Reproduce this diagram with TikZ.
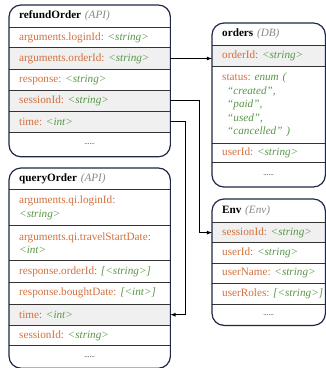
\documentclass[tikz,border=0pt]{standalone}
\usepackage{fontspec}
\setmainfont{Liberation Serif}
\frenchspacing
\definecolor{navy}{RGB}{30,40,70}
\definecolor{keyc}{RGB}{210,112,62}
\definecolor{valc}{RGB}{88,150,70}
\definecolor{rowgray}{RGB}{240,240,240}
\definecolor{tagc}{RGB}{135,135,135}
\newcommand{\fk}[1]{\textcolor{keyc}{#1}}
\newcommand{\fv}[1]{\textcolor{valc}{\textit{#1}}}
\newcommand{\hd}[2]{\textbf{#1} \textcolor{tagc}{\textit{(#2)}}}

\begin{document}
\begin{tikzpicture}[x=1pt,y=-1pt,
  fld/.style={anchor=north west,inner xsep=10pt,inner ysep=0pt,align=left,
    text width=#1,font=\fontsize{11.2}{13.6}\selectfont\frenchspacing},
  dots/.style={fld=#1,align=center,font=\scriptsize},
  hl/.style={fill=rowgray},
  box/.style={draw=navy,line width=1.2pt,rounded corners=12pt},
  sep/.style={draw=black!80,line width=0.9pt},
  link/.style={-latex,line width=0.8pt}]
\useasboundingbox (0,0) rectangle (326,368);

% refundOrder
\node[fld=141pt,minimum height=22pt] (ro-hd) at (9,5) {\hd{refundOrder}{API}};
\node[fld=141pt,minimum height=20pt] (ro-login) at (ro-hd.south west) {\fk{arguments.loginId:} \fv{<string>}};
\node[fld=141pt,minimum height=21pt,hl] (ro-order) at (ro-login.south west) {\fk{arguments.orderId:} \fv{<string>}};
\node[fld=141pt,minimum height=21pt] (ro-resp) at (ro-order.south west) {\fk{response:} \fv{<string>}};
\node[fld=141pt,minimum height=20pt,hl] (ro-session) at (ro-resp.south west) {\fk{sessionId:} \fv{<string>}};
\node[fld=141pt,minimum height=21pt,hl] (ro-time) at (ro-session.south west) {\fk{time:} \fv{<int>}};
\node[dots=141pt,minimum height=24pt] (ro-end) at (ro-time.south west) {......};
\foreach \r in {ro-hd,ro-login,ro-order,ro-resp,ro-session,ro-time}
  \draw[sep] (\r.south west) -- (\r.south east);
\draw[box] (ro-hd.north west) rectangle (ro-end.south east);

% queryOrder
\node[fld=141pt,minimum height=21pt] (qo-hd) at (9,168) {\hd{queryOrder}{API}};
\node[fld=141pt,minimum height=36pt] (qo-login) at (qo-hd.south west) {\fk{arguments.qi.loginId:}\\\fv{<string>}};
\node[fld=141pt,minimum height=34pt] (qo-date) at (qo-login.south west) {\fk{arguments.qi.travelStartDate:}\\\fv{<int>}};
\node[fld=141pt,minimum height=22pt] (qo-order) at (qo-date.south west) {\fk{response.orderId:}~\fv{[<string>]}};
\node[fld=141pt,minimum height=21pt] (qo-bought) at (qo-order.south west) {\fk{response.boughtDate:}~\fv{[<int>]}};
\node[fld=141pt,minimum height=21pt,hl] (qo-time) at (qo-bought.south west) {\fk{time:} \fv{<int>}};
\node[fld=141pt,minimum height=20pt] (qo-session) at (qo-time.south west) {\fk{sessionId:} \fv{<string>}};
\node[dots=141pt,minimum height=22pt] (qo-end) at (qo-session.south west) {......};
\foreach \r in {qo-hd,qo-login,qo-date,qo-order,qo-bought,qo-time,qo-session}
  \draw[sep] (\r.south west) -- (\r.south east);
\draw[box] (qo-hd.north west) rectangle (qo-end.south east);

% orders
\node[fld=93pt,minimum height=22pt] (od-hd) at (212,23) {\hd{orders}{DB}};
\node[fld=93pt,minimum height=21pt,hl] (od-order) at (od-hd.south west) {\fk{orderId:} \fv{<string>}};
\node[fld=93pt,minimum height=76pt] (od-status) at (od-order.south west) {\fk{status:} \fv{enum (}\\
  \hspace*{5pt}\fv{“created”,}\\ \hspace*{5pt}\fv{“paid”,}\\ \hspace*{5pt}\fv{“used”,}\\ \hspace*{5pt}\fv{“cancelled” )}};
\node[fld=93pt,minimum height=19pt] (od-user) at (od-status.south west) {\fk{userId:} \fv{<string>}};
\node[dots=93pt,minimum height=24pt] (od-end) at (od-user.south west) {......};
\foreach \r in {od-hd,od-order,od-status,od-user}
  \draw[sep] (\r.south west) -- (\r.south east);
\draw[box] (od-hd.north west) rectangle (od-end.south east);

% Env
\node[fld=93pt,minimum height=23pt] (env-hd) at (212,199) {\hd{Env}{Env}};
\node[fld=93pt,minimum height=20pt,hl] (env-session) at (env-hd.south west) {\fk{sessionId:}~\fv{<string>}};
\node[fld=93pt,minimum height=20pt] (env-user) at (env-session.south west) {\fk{userId:} \fv{<string>}};
\node[fld=93pt,minimum height=20pt] (env-name) at (env-user.south west) {\fk{userName:}~\fv{<string>}};
\node[fld=93pt,minimum height=20pt] (env-roles) at (env-name.south west) {\fk{userRoles:}~\fv{[<string>]}};
\node[dots=93pt,minimum height=21pt] (env-end) at (env-roles.south west) {......};
\foreach \r in {env-hd,env-session,env-user,env-name,env-roles}
  \draw[sep] (\r.south west) -- (\r.south east);
\draw[box] (env-hd.north west) rectangle (env-end.south east);

% links
\draw[link] (ro-order.east) -- (ro-order.east -| od-order.west);
\draw[link] (ro-session.east) -- ([xshift=29pt]ro-session.east) |- (env-session.west);
\draw[link] (ro-time.east) -- ([xshift=15pt]ro-time.east) |- (qo-time.east);
\end{tikzpicture}
\end{document}
